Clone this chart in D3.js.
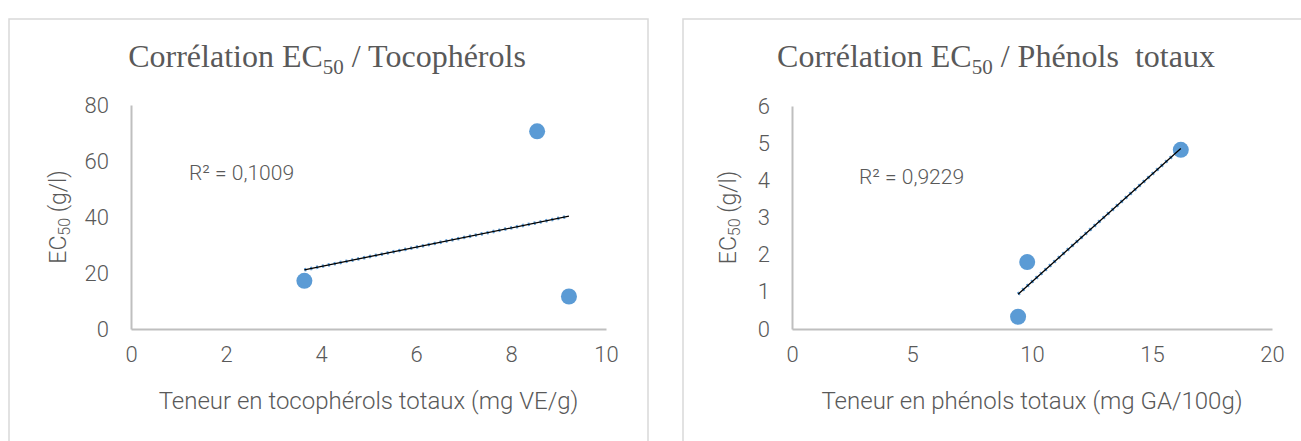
<!DOCTYPE html>
<html>
<head>
<meta charset="utf-8">
<script src="https://cdn.jsdelivr.net/npm/d3@7"></script>
<style>
  body { margin: 0; background: #fff; }
  svg { display: block; }
  .tick text { fill: #595959; }
</style>
</head>
<body>
<svg id="chart" width="1301" height="441"></svg>
<script>
"use strict";

// left chart: tocopherols
const tocoX = [3.65, 8.55, 9.22];
const tocoY = [17.2, 70.6, 11.6];
const tocoXTicks = [0, 2, 4, 6, 8, 10];
const tocoYTicks = [0, 20, 40, 60, 80];
const tocoR2 = "R² = 0,1009";

// right chart: phenols
const phenX = [9.42, 9.8, 16.2];
const phenY = [0.33, 1.8, 4.82];
const phenXTicks = [0, 5, 10, 15, 20];
const phenYTicks = [0, 1, 2, 3, 4, 5, 6];
const phenR2 = "R² = 0,9229";

const grey = "#595959";
const sansFont = "Roboto, 'Open Sans', sans-serif";
const serifFont = "'Liberation Serif', 'DejaVu Serif', serif";

const svg = d3.select("#chart");

function linearFit(xs, ys) {
  let mx = d3.mean(xs), my = d3.mean(ys);
  let sxy = d3.sum(xs, (x, i) => (x - mx) * (ys[i] - my));
  let sxx = d3.sum(xs, (x) => (x - mx) * (x - mx));
  let slope = sxy / sxx;
  return (x) => my + slope * (x - mx);
}

function drawPanel(opt) {
  let g = svg.append("g");

  // chart frame
  g.append("rect")
    .attr("x", opt.frame[0])
    .attr("y", opt.frame[1])
    .attr("width", opt.frame[2])
    .attr("height", opt.frame[3])
    .attr("fill", "#fff")
    .attr("stroke", "#d9d9d9")
    .attr("stroke-width", 1.5);

  let x = d3.scaleLinear().domain(opt.xDomain).range([opt.left, opt.right]);
  let y = d3.scaleLinear().domain(opt.yDomain).range([opt.bottom, opt.top]);

  // title with subscript
  let title = g.append("text")
    .attr("x", opt.titleX)
    .attr("y", 67)
    .attr("text-anchor", "middle")
    .attr("font-family", serifFont)
    .attr("font-size", 32)
    .attr("fill", grey)
    .style("white-space", "pre");
  title.append("tspan").text("Corrélation EC");
  title.append("tspan").attr("font-size", 21).attr("dy", 7).text("50");
  title.append("tspan").attr("dy", -7).text(opt.titleTail);

  // axes
  let fmt = d3.format("d");
  let xAxis = g.append("g")
    .attr("transform", "translate(0," + opt.bottom + ")")
    .call(d3.axisBottom(x).tickValues(opt.xTicks).tickFormat(fmt).tickSize(0).tickPadding(17));
  xAxis.select(".domain").attr("stroke", "#bfbfbf").attr("stroke-width", 2);
  xAxis.selectAll("text")
    .attr("font-family", sansFont)
    .attr("font-weight", 300)
    .attr("font-size", 22);

  let yAxis = g.append("g")
    .attr("transform", "translate(" + opt.left + ",0)")
    .call(d3.axisLeft(y).tickValues(opt.yTicks).tickFormat(fmt).tickSize(0).tickPadding(opt.yPad));
  yAxis.select(".domain").attr("stroke", "#bfbfbf").attr("stroke-width", 2);
  yAxis.selectAll("text")
    .attr("font-family", sansFont)
    .attr("font-weight", 300)
    .attr("font-size", 22);

  // axis titles
  g.append("text")
    .attr("x", (opt.left + opt.right) / 2)
    .attr("y", 409)
    .attr("text-anchor", "middle")
    .attr("font-family", sansFont)
    .attr("font-weight", 300)
    .attr("font-size", 24)
    .attr("fill", grey)
    .text(opt.xTitle);

  let yTitle = g.append("text")
    .attr("transform", "translate(" + opt.yTitleX + "," + (opt.top + opt.bottom) / 2 + ") rotate(-90)")
    .attr("text-anchor", "middle")
    .attr("font-family", sansFont)
    .attr("font-weight", 300)
    .attr("font-size", 23)
    .attr("fill", grey);
  yTitle.append("tspan").text("EC");
  yTitle.append("tspan").attr("font-size", 16).attr("dy", 4).text("50");
  yTitle.append("tspan").attr("dy", -4).text(" (g/l)");

  // points
  let pts = opt.xs.map((v, i) => ({ x: v, y: opt.ys[i] }));
  g.selectAll(".pt")
    .data(pts)
    .enter()
    .append("circle")
    .attr("class", "pt")
    .attr("cx", (d) => x(d.x))
    .attr("cy", (d) => y(d.y))
    .attr("r", 8)
    .attr("fill", "#5b9bd5");

  // trendline: blue dotted under a thin black line
  let fit = linearFit(opt.xs, opt.ys);
  let ends = d3.extent(opt.xs).map((v) => [x(v), y(fit(v))]);
  let line = d3.line();
  g.append("path")
    .attr("d", line(ends))
    .attr("fill", "none")
    .attr("stroke", "#5b9bd5")
    .attr("stroke-width", 3.5)
    .attr("stroke-dasharray", "2,4");
  g.append("path")
    .attr("d", line(ends))
    .attr("fill", "none")
    .attr("stroke", "#000")
    .attr("stroke-width", 1.3);

  g.append("text")
    .attr("x", opt.r2X)
    .attr("y", opt.r2Y)
    .attr("font-family", sansFont)
    .attr("font-weight", 300)
    .attr("font-size", 21)
    .attr("fill", grey)
    .text(opt.r2);
}

drawPanel({
  frame: [9, 19, 639, 440],
  xDomain: [0, 10], yDomain: [0, 80],
  left: 131, right: 606, top: 105, bottom: 329,
  xTicks: tocoXTicks, yTicks: tocoYTicks, yPad: 22,
  xs: tocoX, ys: tocoY,
  titleX: 327, titleTail: " / Tocophérols",
  xTitle: "Teneur en tocophérols totaux (mg VE/g)",
  yTitleX: 66,
  r2: tocoR2, r2X: 189, r2Y: 180
});

drawPanel({
  frame: [683, 19, 640, 440],
  xDomain: [0, 20], yDomain: [0, 6],
  left: 792, right: 1272, top: 106, bottom: 329,
  xTicks: phenXTicks, yTicks: phenYTicks, yPad: 22,
  xs: phenX, ys: phenY,
  titleX: 996, titleTail: " / Phénols  totaux",
  xTitle: "Teneur en phénols totaux (mg GA/100g)",
  yTitleX: 736,
  r2: phenR2, r2X: 859, r2Y: 184
});
</script>
</body>
</html>
